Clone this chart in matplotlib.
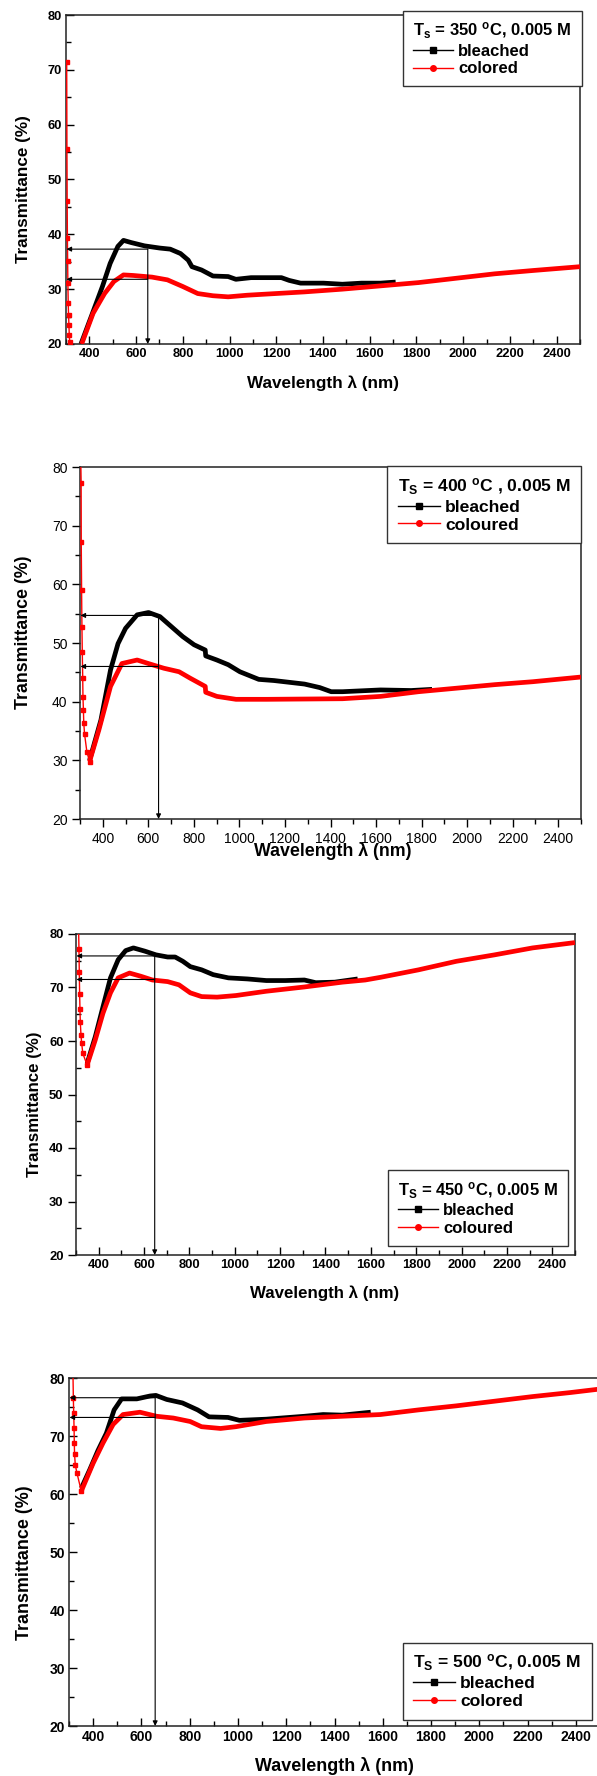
import matplotlib.pyplot as plt
from matplotlib.lines import Line2D
from matplotlib.ticker import MultipleLocator

plt.rcParams['font.family'] = ['Liberation Sans', 'DejaVu Sans']
plt.rcParams['mathtext.fontset'] = 'custom'
plt.rcParams['mathtext.rm'] = 'Liberation Sans:bold'
plt.rcParams['mathtext.it'] = 'Liberation Sans:bold'
plt.rcParams['mathtext.bf'] = 'Liberation Sans:bold'

# ---- 350 C ----
b350_x = [364, 408, 456, 489, 522, 546, 579, 636, 701, 746, 790, 823, 839, 880, 929, 994,
          1027, 1092, 1157, 1222, 1255, 1304, 1402, 1483, 1565, 1646, 1711]
b350_y = [20, 25, 30.5, 34.7, 37.8, 38.9, 38.5, 37.9, 37.5, 37.3, 36.5, 35.3, 34.1, 33.5, 32.4, 32.3,
          31.8, 32.1, 32.1, 32.1, 31.6, 31.1, 31.1, 30.9, 31.1, 31.1, 31.3]
c350_x = [367, 416, 465, 505, 546, 587, 668, 734, 799, 864, 929, 994, 1076, 1157, 1320, 1483,
          1646, 1809, 1972, 2135, 2298, 2500]
c350_y = [20, 25.6, 29.2, 31.4, 32.6, 32.5, 32.2, 31.7, 30.5, 29.2, 28.8, 28.6, 28.9, 29.1, 29.5, 30.0,
          30.6, 31.2, 32.0, 32.8, 33.4, 34.1]
e350_x = [303, 304, 305, 306, 307, 308, 309.5, 311, 312.5, 314, 316, 318]
e350_y = [71.5, 55.6, 46.0, 39.3, 35.2, 31.2, 27.4, 25.3, 23.5, 21.6, 20.4, 19]
arr350 = [37.3, 31.8, 650]

# ---- 400 C ----
b400_x = [342, 392, 434, 467, 500, 551, 601, 651, 701, 751, 801, 850,
          852, 901, 951, 1002, 1085, 1152, 1219, 1286, 1353, 1403, 1453, 1620, 1754, 1846]
b400_y = [30.0, 36.9, 45.4, 49.9, 52.5, 54.8, 55.2, 54.5, 52.8, 51.1, 49.7, 48.8,
          47.8, 47.1, 46.3, 45.1, 43.8, 43.6, 43.3, 43.0, 42.4, 41.7, 41.7, 42.0, 41.9, 42.1]
c400_x = [342, 383, 434, 484, 551, 617, 668, 735, 784, 850,
          852, 901, 985, 1119, 1453, 1620, 1787, 1954, 2121, 2288, 2500]
c400_y = [29.8, 35.2, 42.6, 46.5, 47.1, 46.3, 45.7, 45.1, 44.0, 42.6,
          41.6, 40.9, 40.4, 40.4, 40.5, 40.9, 41.7, 42.3, 42.9, 43.4, 44.2]
e400_x = [303, 305, 305.5, 307, 308.5, 310, 312, 313, 315, 316.5, 320, 330, 342]
e400_y = [82, 77.3, 67.2, 59.1, 52.8, 48.5, 44.0, 40.8, 38.6, 36.4, 34.5, 31.5, 29.8]
arr400 = [54.7, 46.0, 645]

# ---- 450 C ----
b450_x = [349, 385, 419, 452, 486, 519, 553, 603, 653, 704, 737, 771, 804, 854, 905, 972,
          1056, 1139, 1223, 1307, 1357, 1441, 1542]
b450_y = [55.8, 60.8, 66.4, 71.8, 75.2, 76.9, 77.4, 76.8, 76.1, 75.7, 75.7, 74.9, 73.9, 73.3, 72.4, 71.8,
          71.6, 71.3, 71.3, 71.4, 70.9, 71.0, 71.6]
c450_x = [349, 385, 419, 452, 486, 536, 586, 637, 704, 754, 804, 854, 922, 1005, 1139, 1307,
          1475, 1575, 1642, 1810, 1977, 2145, 2313, 2500]
c450_y = [55.5, 60.2, 65.2, 69.0, 71.8, 72.7, 72.1, 71.4, 71.1, 70.5, 69.0, 68.3, 68.2, 68.5, 69.3, 70.1,
          71.0, 71.4, 71.9, 73.3, 74.9, 76.1, 77.4, 78.4]
e450_x = [311, 313, 314.5, 316, 317.5, 319, 322, 325, 330, 349]
e450_y = [82, 77.2, 72.9, 68.8, 66.0, 63.5, 61.1, 59.6, 57.7, 55.5]
arr450 = [75.9, 71.5, 647]

# ---- 500 C ----
b500_x = [351, 386, 420, 455, 487, 518, 539, 581, 636, 660, 705, 770, 833, 880, 959, 1006,
          1117, 1275, 1353, 1432, 1526, 1550]
b500_y = [61.0, 64.2, 67.5, 70.5, 74.5, 76.4, 76.4, 76.4, 76.9, 77.0, 76.3, 75.7, 74.5, 73.3, 73.2, 72.7,
          72.9, 73.4, 73.7, 73.6, 74.0, 74.1]
c500_x = [351, 400, 441, 483, 524, 594, 663, 732, 802, 849, 928, 991, 1117, 1275, 1432, 1590,
          1748, 1905, 2063, 2221, 2379, 2500]
c500_y = [60.5, 65.3, 68.8, 72.0, 73.7, 74.1, 73.4, 73.1, 72.5, 71.6, 71.3, 71.6, 72.5, 73.1, 73.4, 73.7,
          74.5, 75.2, 76.0, 76.8, 77.5, 78.1]
e500_x = [316, 318, 319.5, 321, 322, 323, 326, 333, 351]
e500_y = [82, 76.5, 74.0, 71.3, 68.8, 66.9, 65.0, 63.6, 60.5]
arr500 = [76.6, 73.2, 657]

titles = [r'T$_{s}$ = 350 $^{o}$C, 0.005 M', r'T$_{S}$ = 400 $^{o}$C , 0.005 M',
          r'T$_{S}$ = 450 $^{o}$C, 0.005 M', r'T$_{S}$ = 500 $^{o}$C, 0.005 M']
col_labels = ['colored', 'coloured', 'coloured', 'colored']

W, H = 597, 1776
fig = plt.figure(figsize=(W / 100, H / 100), dpi=100)


def px_rect(l, t, r, b):
    return [l / W, 1 - b / H, (r - l) / W, (b - t) / H]


panels = [
    dict(rect=px_rect(66, 15, 580, 344), b=(b350_x, b350_y), c=(c350_x, c350_y), e=(e350_x, e350_y),
         arr=arr350, tdir='in', tbold=True, fst=9.3, fsl=12.3, fsleg=12, loc='upper right',
         anchor=(1.003, 1.012), ylab=(-0.082, 0.47), xlab=(0.5, -0.118)),
    dict(rect=px_rect(80, 467, 581, 819), b=(b400_x, b400_y), c=(c400_x, c400_y), e=(e400_x, e400_y),
         arr=arr400, tdir='out', tbold=False, fst=10, fsl=12.8, fsleg=12.6, loc='upper right',
         anchor=(1.0, 1.003), ylab=(-0.112, 0.53), xlab=(0.504, -0.092)),
    dict(rect=px_rect(76, 934, 575, 1255), b=(b450_x, b450_y), c=(c450_x, c450_y), e=(e450_x, e450_y),
         arr=arr450, tdir='in', tbold=True, fst=9.4, fsl=12.2, fsleg=12, loc='lower right',
         anchor=(0.986, 0.029), ylab=(-0.083, 0.47), xlab=(0.498, -0.118)),
    dict(rect=px_rect(69, 1378, 600, 1726), b=(b500_x, b500_y), c=(c500_x, c500_y), e=(e500_x, e500_y),
         arr=arr500, tdir='in', tbold=True, fst=10, fsl=12.9, fsleg=12.6, loc='lower right',
         anchor=(0.984, 0.018), ylab=(-0.084, 0.47), xlab=(0.5, -0.116)),
]

for i, p in enumerate(panels):
    ax = fig.add_axes(p['rect'])
    ax.plot(*p['b'], color='black', lw=3.4, solid_capstyle='butt', zorder=3)
    ax.plot(*p['c'], color='#FF0000', lw=3.4, solid_capstyle='butt', zorder=4)
    ax.plot(*p['e'], color='#FF0000', lw=1.0, marker='s', ms=3.2, mec='#FF0000', zorder=5)

    y1, y2, xv = p['arr']
    ap = dict(arrowstyle='-|>', lw=0.8, color='black', mutation_scale=7, shrinkA=0, shrinkB=0)
    ax.annotate('', xy=(302, y1), xytext=(xv, y1), arrowprops=ap, zorder=6)
    ax.annotate('', xy=(302, y2), xytext=(xv, y2), arrowprops=ap, zorder=6)
    ax.annotate('', xy=(xv, 20), xytext=(xv, y1), arrowprops=ap, zorder=6)

    ax.set_xlim(300, 2500)
    ax.set_ylim(20, 80)
    ax.xaxis.set_major_locator(MultipleLocator(200))
    ax.xaxis.set_minor_locator(MultipleLocator(100))
    ax.yaxis.set_major_locator(MultipleLocator(10))
    ax.yaxis.set_minor_locator(MultipleLocator(5))
    ax.set_xticks(range(400, 2500, 200))
    ax.tick_params(which='both', direction=p['tdir'], top=False, right=False, width=1.0,
                   labelsize=p['fst'], pad=3)
    ax.tick_params(which='major', length=6)
    ax.tick_params(which='minor', length=3.5)
    if i == 2:
        ax.tick_params(axis='y', which='major', direction='out')
    for lab in ax.get_xticklabels() + ax.get_yticklabels():
        lab.set_fontweight('bold' if p['tbold'] else 'normal')
    for s in ax.spines.values():
        s.set_linewidth(1.1)
        s.set_color('#222222')

    ax.set_xlabel('Wavelength \u03bb (nm)', fontsize=p['fsl'], fontweight='bold')
    ax.set_ylabel('Transmittance (%)', fontsize=p['fsl'], fontweight='bold')
    ax.xaxis.set_label_coords(*p['xlab'])
    ax.yaxis.set_label_coords(*p['ylab'])
    ax.xaxis.label.set_verticalalignment('center')
    ax.yaxis.label.set_verticalalignment('center')

    handles = [Line2D([], [], color='black', lw=1, marker='s', ms=4),
               Line2D([], [], color='#FF0000', lw=1, marker='o', ms=4)]
    leg = ax.legend(handles, ['bleached', col_labels[i]], loc=p['loc'], bbox_to_anchor=p['anchor'],
                    borderaxespad=0, numpoints=1, handlelength=2.4, handletextpad=0.3,
                    labelspacing=0.15, borderpad=0.6, fancybox=False, framealpha=1,
                    edgecolor='#333333', title=titles[i], alignment='left',
                    prop=dict(weight='bold', size=p['fsleg']),
                    title_fontproperties=dict(weight='bold', size=p['fsleg']))
    leg.get_frame().set_linewidth(1.0)
    leg.set_zorder(10)

fig.savefig('out.png', dpi=100)
